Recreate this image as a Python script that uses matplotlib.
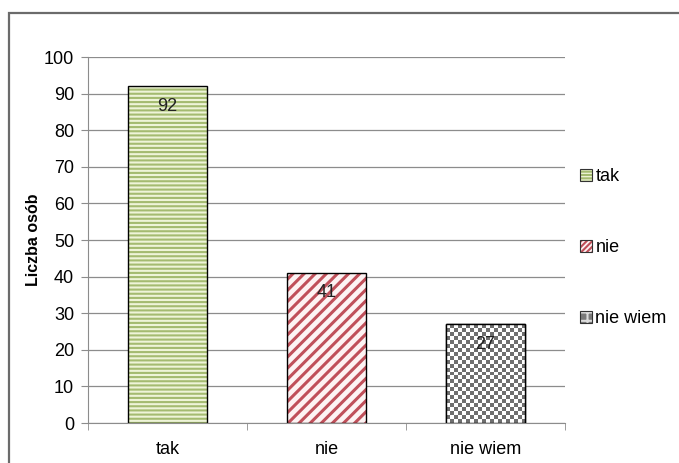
import numpy as np
import matplotlib
matplotlib.use("Agg")
import matplotlib.pyplot as plt
from matplotlib.patches import Patch, Rectangle
from matplotlib.colors import to_rgba, ListedColormap

categories = ["tak", "nie", "nie wiem"]
values = [92, 41, 27]
y_ticks = [0, 10, 20, 30, 40, 50, 60, 70, 80, 90, 100]
y_label = "Liczba osób"

plt.rcParams['font.family'] = ['Liberation Sans', 'DejaVu Sans']
plt.rcParams['hatch.linewidth'] = 1.5

fig = plt.figure(figsize=(6.79, 4.63), dpi=100)
# outer chart frame (extends beyond bottom/right of image)
fig.patches.append(Rectangle((9/679, -0.05), 1.1, 1 - 13/463 + 0.05,
                             transform=fig.transFigure, fill=False,
                             edgecolor='#6b6b6b', linewidth=1.6))

ax = fig.add_axes([88/679, 1 - 423/463, (565 - 88)/679, (423 - 57)/463])
x = np.arange(len(categories))
ax.set_xlim(-0.5, len(categories) - 0.5)
ax.set_ylim(0, 100)

ax.yaxis.grid(True, color='#8c8c8c', linewidth=0.9)
ax.set_axisbelow(True)

styles = [
    dict(facecolor='#eef4d8', hatch='----', hatchcolor='#a4bb70', hlw=1.5),
    dict(facecolor='#fdf3f3', hatch='///', hatchcolor='#c0505a', hlw=2.2),
    dict(facecolor='white', hatch=None, hatchcolor=None, hlw=1.5),
]
bars = ax.bar(x, values, width=0.5, edgecolor='black', linewidth=1.0, zorder=2)
for b, st in zip(bars, styles):
    b.set_facecolor(st['facecolor'])
    if st['hatch']:
        b.set_hatch(st['hatch'])
        b._hatch_color = to_rgba(st['hatchcolor'])
        try:
            b.set_hatch_linewidth(st['hlw'])
        except Exception:
            b._hatch_linewidth = st['hlw']

# checkerboard fill for third bar
b3 = bars[2]
cell = 4.0
nx = int(round(80 / cell))
ny = int(round(b3.get_height() / 100 * 366 / cell))
checker = (np.add.outer(np.arange(ny), np.arange(nx)) % 2).astype(float)
im = ax.imshow(checker, cmap=ListedColormap(['#ffffff', '#6f6f6f']),
               extent=(b3.get_x(), b3.get_x() + b3.get_width(), 0, b3.get_height()),
               aspect='auto', interpolation='nearest', zorder=2.5)
im.set_clip_path(b3)
ax.add_patch(Rectangle((b3.get_x(), 0), b3.get_width(), b3.get_height(),
                       fill=False, edgecolor='black', linewidth=1.0, zorder=3))

for xi, v in zip(x, values):
    ax.text(xi, v - 3.1, str(v), ha='center', va='top', fontsize=13, color='#222222', zorder=4)

ax.set_yticks(y_ticks)
ax.set_yticklabels([str(t) for t in y_ticks], fontsize=13)
ax.set_xticks(x)
ax.set_xticklabels(categories, fontsize=13)
ax.tick_params(axis='x', length=0, pad=13)
ax.tick_params(axis='y', length=5, color='#8c8c8c', pad=5)
# category separators
ax.set_xticks(np.arange(-0.5, len(categories)), minor=True)
ax.tick_params(axis='x', which='minor', length=5, color='#8c8c8c')

for s in ['top', 'right']:
    ax.spines[s].set_visible(False)
ax.spines['left'].set_color('#8c8c8c')
ax.spines['bottom'].set_color('#8c8c8c')
ax.set_ylabel(y_label, fontsize=11.5, fontweight='bold', labelpad=2)

handles = []
for st in styles:
    if st['hatch']:
        p = Patch(facecolor=st['facecolor'], edgecolor='#333333',
                  hatch='-----' if st['hatch'].startswith('-') else '//////', linewidth=0.8)
        p._hatch_color = to_rgba(st['hatchcolor'])
    else:
        p = Patch(facecolor='#7a7a7a', edgecolor='#333333', hatch='++', linewidth=0.8)
        p._hatch_color = to_rgba('#dddddd')
    handles.append(p)
leg = fig.legend(handles, categories, loc='upper left', bbox_to_anchor=(580/679, 1 - 168/463),
                 frameon=False, fontsize=13, handlelength=0.65, handleheight=0.65,
                 handletextpad=0.2, labelspacing=3.0, borderpad=0, borderaxespad=0)

fig.savefig("out.png", dpi=100)
